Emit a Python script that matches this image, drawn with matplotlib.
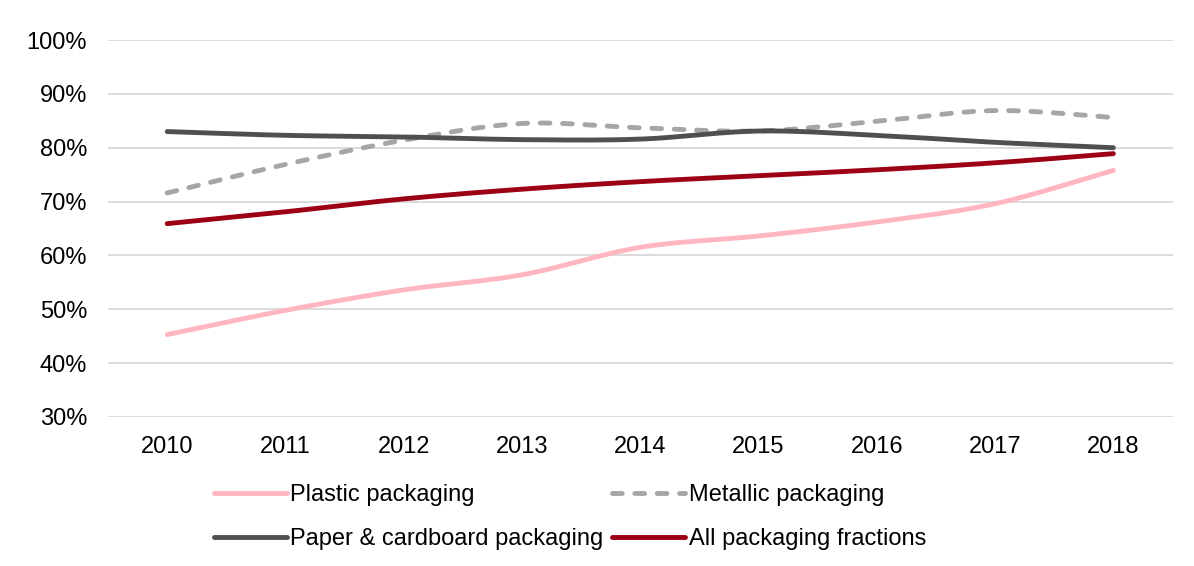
import numpy as np
import matplotlib
matplotlib.use('Agg')
import matplotlib.pyplot as plt
from matplotlib.ticker import PercentFormatter

plt.rcParams['font.family'] = ['Liberation Sans', 'DejaVu Sans']

# Dane
years = ['2010', '2011', '2012', '2013', '2014', '2015', '2016', '2017', '2018']
plastic = [45.3, 49.8, 53.6, 56.4, 61.5, 63.6, 66.2, 69.6, 75.8]
metallic = [71.6, 76.9, 81.4, 84.5, 83.7, 83.1, 84.9, 86.9, 85.6]
paper = [83.0, 82.3, 82.0, 81.5, 81.6, 83.1, 82.3, 81.0, 80.0]
all_fractions = [65.9, 68.1, 70.5, 72.3, 73.7, 74.8, 75.9, 77.2, 78.9]

labels = ['Plastic packaging', 'Metallic packaging',
          'Paper & cardboard packaging', 'All packaging fractions']


# Wygładzanie linii jak w Excelu (krzywe Beziera przez kolejne punkty)
def smooth(xs, ys, steps=30):
    xs = np.asarray(xs, dtype=float)
    ys = np.asarray(ys, dtype=float)
    n = len(xs)
    out_x, out_y = [], []
    t = np.linspace(0, 1, steps)
    for i in range(n - 1):
        p0 = np.array([xs[max(i - 1, 0)], ys[max(i - 1, 0)]])
        p1 = np.array([xs[i], ys[i]])
        p2 = np.array([xs[i + 1], ys[i + 1]])
        p3 = np.array([xs[min(i + 2, n - 1)], ys[min(i + 2, n - 1)]])
        c1 = p1 + (p2 - p0) / 6
        c2 = p2 - (p3 - p1) / 6
        pts = ((1 - t) ** 3)[:, None] * p1 + (3 * (1 - t) ** 2 * t)[:, None] * c1 \
            + (3 * (1 - t) * t ** 2)[:, None] * c2 + (t ** 3)[:, None] * p2
        out_x.extend(pts[:, 0])
        out_y.extend(pts[:, 1])
    return out_x, out_y


fig = plt.figure(figsize=(11.94, 5.66), dpi=100)
ax = fig.add_axes([0.0905, 0.2633, 0.8915, 0.666])

x = np.arange(len(years))
series = [
    (plastic, '#FFB6C1', '-'),
    (metallic, '#A6A6A6', (0, (2.0, 2.6))),
    (paper, '#4F4F4F', '-'),
    (all_fractions, '#9B0014', '-'),
]

lines = []
for (vals, color, ls), label in zip(series, labels):
    sx, sy = smooth(x, vals)
    ln, = ax.plot(sx, sy, color=color, lw=3.5, ls=ls, label=label,
                  solid_capstyle='round', dash_capstyle='round')
    lines.append(ln)

ax.set_xlim(-0.5, len(years) - 0.5)
ax.set_ylim(30, 100)
ax.set_yticks(np.arange(30, 101, 10))
ax.yaxis.set_major_formatter(PercentFormatter(decimals=0))
ax.set_xticks(x)
ax.set_xticklabels(years)
ax.grid(axis='y', color='#D9D9D9', lw=1.3)
ax.set_axisbelow(True)
for s in ax.spines.values():
    s.set_visible(False)
ax.tick_params(length=0, labelsize=17, colors='#000000')
ax.tick_params(axis='y', pad=15)
ax.tick_params(axis='x', pad=14)

# Kolejność w legendzie: wiersz po wierszu
order = [0, 2, 1, 3]
fig.legend([lines[i] for i in order], [labels[i] for i in order],
           loc='upper left', bbox_to_anchor=(0.179, 0.145), ncol=2, frameon=False,
           fontsize=17, handlelength=3.1, handletextpad=0.15, columnspacing=0.35,
           labelspacing=0.95, borderaxespad=0, borderpad=0)

fig.savefig('out.png', dpi=100)
